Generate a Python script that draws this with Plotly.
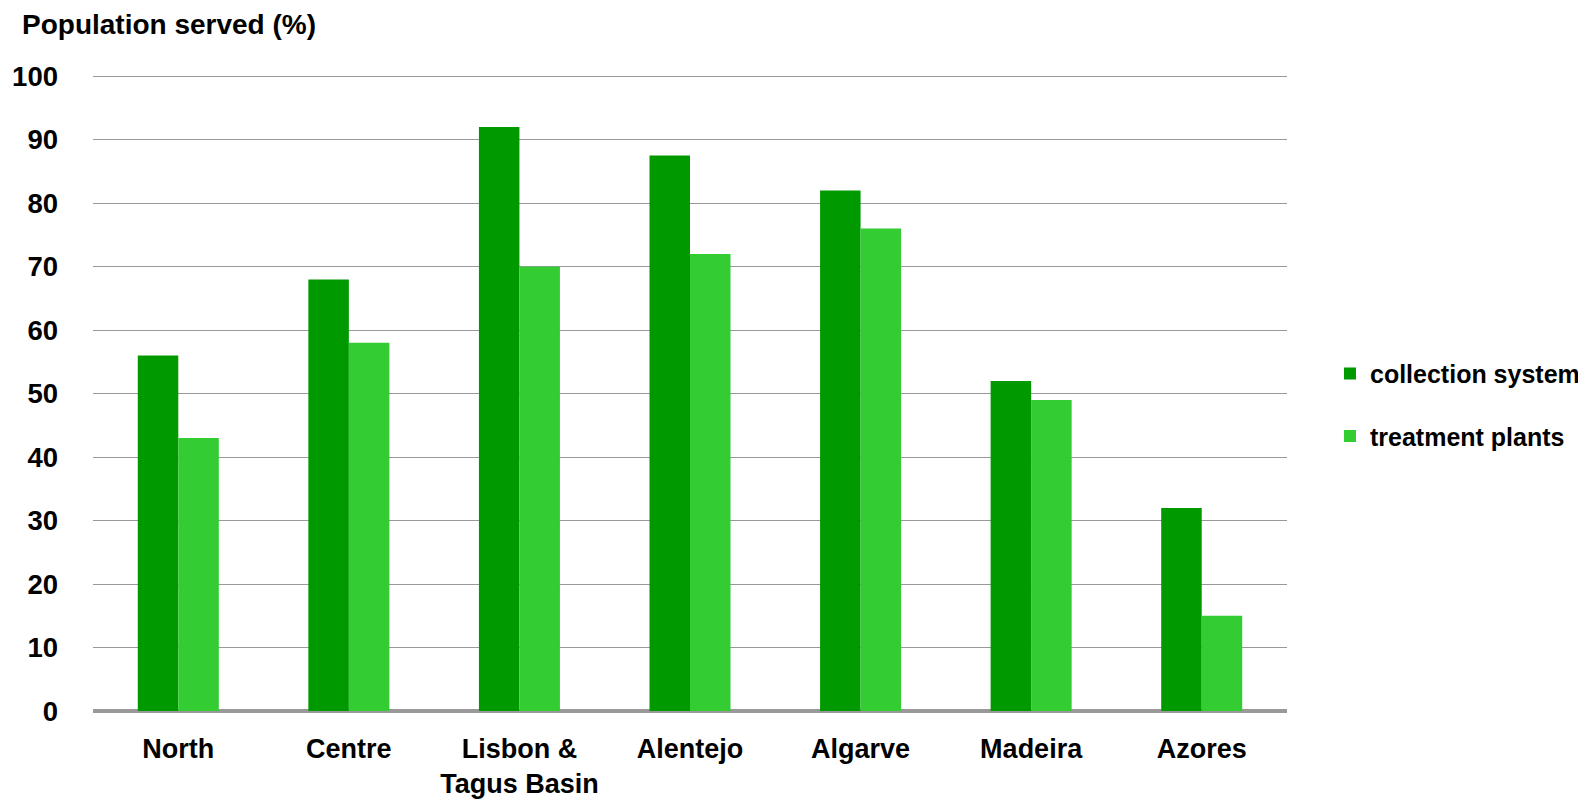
import plotly.graph_objects as go

regions = ["North", "Centre", "Lisbon &<br>Tagus Basin", "Alentejo", "Algarve", "Madeira", "Azores"]
collection_system = [56, 68, 92, 87.5, 82, 52, 32]
treatment_plants = [43, 58, 70, 72, 76, 49, 15]
y_ticks = [0, 10, 20, 30, 40, 50, 60, 70, 80, 90, 100]

font_family = "Liberation Sans, Arial, sans-serif"

fig = go.Figure()
fig.add_trace(go.Bar(x=regions, y=collection_system, name="collection system",
                     marker=dict(color="#009900", line=dict(width=0)),
                     legendgroup="a"))
fig.add_trace(go.Bar(x=regions, y=treatment_plants, name="treatment plants",
                     marker=dict(color="#33CC33", line=dict(width=0)),
                     legendgroup="b"))

fig.update_layout(
    width=1586, height=802,
    paper_bgcolor="white", plot_bgcolor="white",
    margin=dict(l=85, r=307, t=67, b=99, autoexpand=False),
    barmode="group", bargap=0.525, bargroupgap=0,
    font=dict(family=font_family, size=25, color="black", weight="bold"),
    showlegend=True,
    legend=dict(x=1.036, y=0.4816, xanchor="left", yanchor="middle",
                font=dict(size=25, family=font_family, weight="bold"),
                tracegroupgap=27, bgcolor="rgba(0,0,0,0)"),
    annotations=[dict(text="Population served (%)", xref="paper", yref="paper",
                      x=-0.061, y=1.08, xanchor="left", yanchor="middle",
                      showarrow=False,
                      font=dict(size=28, family=font_family, weight="bold"))],
)
fig.update_yaxes(range=[0, 100.2], tickvals=y_ticks, showgrid=True, gridcolor="#999999",
                 gridwidth=1, zeroline=True, zerolinecolor="#999999", zerolinewidth=4,
                 showline=False, ticks="", ticklabelstandoff=34,
                 tickfont=dict(size=27.5, family=font_family, weight="bold"))
fig.update_xaxes(showgrid=False, showline=False, ticks="", ticklabelstandoff=19,
                 tickfont=dict(size=27, family=font_family, weight="bold"))

fig.write_html("out.html")
